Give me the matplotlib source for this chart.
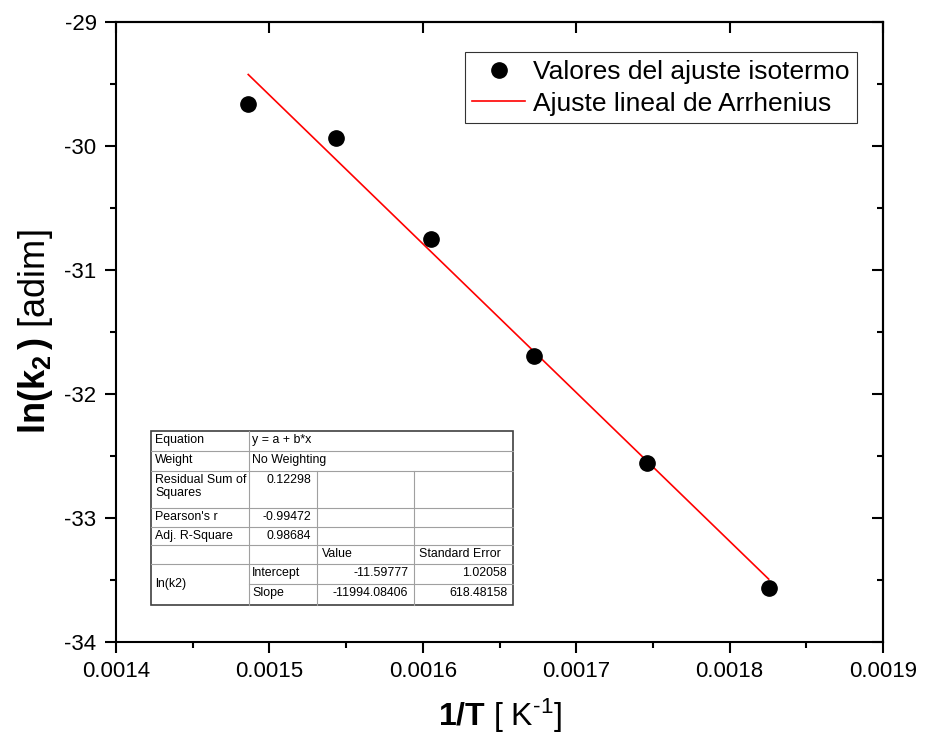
import matplotlib
matplotlib.use('Agg')
import matplotlib.pyplot as plt
from matplotlib.ticker import MultipleLocator
from matplotlib.patches import Rectangle

plt.rcParams['font.family'] = 'Liberation Sans'
plt.rcParams['mathtext.fontset'] = 'custom'
plt.rcParams['mathtext.rm'] = 'Liberation Sans'
plt.rcParams['mathtext.bf'] = 'Liberation Sans:bold'
plt.rcParams['mathtext.it'] = 'Liberation Sans:italic'

# 1/T [1/K] y ln(k2) de cada ajuste isotermo
inv_T = [0.0014862, 0.0015434, 0.0016053, 0.0016727, 0.0017460, 0.0018255]
ln_k2 = [-29.664, -29.938, -30.750, -31.691, -32.559, -33.567]

# parametros del ajuste lineal de Arrhenius
intercept = -11.59777
slope = -11994.08406

# tabla de resultados del ajuste
fit_labels = ["Equation", "Weight", "Residual Sum of\nSquares", "Pearson's r", "Adj. R-Square"]
fit_values = ["y = a + b*x", "No Weighting", "0.12298", "-0.99472", "0.98684"]
param_header = ["Value", "Standard Error"]
param_names = ["Intercept", "Slope"]
param_values = ["-11.59777", "-11994.08406"]
param_errors = ["1.02058", "618.48158"]

fig = plt.figure(figsize=(9.26, 7.44), dpi=100)
ax = fig.add_axes([116/926, (744-642)/744, 767/926, 620/744])

ax.plot(inv_T, ln_k2, 'o', color='black', ms=11, label='Valores del ajuste isotermo', zorder=3)
x_fit = [min(inv_T), max(inv_T)]
y_fit = [intercept + slope*x for x in x_fit]
ax.plot(x_fit, y_fit, color='red', lw=1.2, label='Ajuste lineal de Arrhenius', zorder=2)

ax.set_xlim(0.0014, 0.0019)
ax.set_ylim(-34, -29)
ax.xaxis.set_major_locator(MultipleLocator(0.0001))
ax.xaxis.set_minor_locator(MultipleLocator(0.00005))
ax.yaxis.set_major_locator(MultipleLocator(1))
ax.yaxis.set_minor_locator(MultipleLocator(0.5))
ax.xaxis.set_major_formatter(plt.FuncFormatter(lambda v, p: '%.4f' % v))
ax.yaxis.set_major_formatter(plt.FuncFormatter(lambda v, p: '%d' % round(v)))
for s in ax.spines.values():
    s.set_linewidth(1.5)
ax.tick_params(which='major', direction='out', length=8, width=1.5, labelsize=16, pad=6)
ax.tick_params(which='minor', direction='out', length=4.5, width=1.5)

# ejes superior y derecho con marcas hacia dentro
top = ax.secondary_xaxis('top')
top.xaxis.set_major_locator(MultipleLocator(0.0001))
top.tick_params(direction='in', length=8, width=1.5, labeltop=False)
right = ax.secondary_yaxis('right')
right.yaxis.set_major_locator(MultipleLocator(1))
right.yaxis.set_minor_locator(MultipleLocator(0.5))
right.tick_params(which='major', direction='in', length=8, width=1.5, labelright=False)
right.tick_params(which='minor', direction='in', length=4.5, width=1.5)
for sa in (top, right):
    for s in sa.spines.values():
        s.set_linewidth(1.5)

ax.set_xlabel(r'$\mathbf{1/T}$ [ K$^{\text{-1}}$]', fontsize=23, labelpad=10)
ax.set_ylabel(r'$\mathbf{ln(k_2\,)}$ [adim]', fontsize=26, labelpad=7)

leg = ax.legend(loc='upper right', bbox_to_anchor=(0.966, 0.951), fontsize=19,
                fancybox=False, frameon=True, numpoints=1, handlelength=2.0,
                handletextpad=0.3, borderpad=0.28, labelspacing=0.3, borderaxespad=0)
leg.get_frame().set_edgecolor('black')
leg.get_frame().set_linewidth(0.8)

# tabla en coordenadas de pixel de la figura
tab = fig.add_axes([0, 0, 1, 1], zorder=5)
tab.set_xlim(0, 926)
tab.set_ylim(744, 0)
tab.axis('off')

x0, x1, x2, x3, x4 = 151, 249, 317, 414, 513
rows = [431, 451, 471, 508, 527, 545, 564, 584, 605]
grid = '#a0a0a0'
tab.add_patch(Rectangle((x0, rows[0]), x4 - x0, rows[-1] - rows[0], facecolor='white',
                        edgecolor='#404040', lw=1.2))
for y in rows[1:-1]:
    xa = x1 if y == rows[7] else x0
    tab.plot([xa, x4], [y, y], color=grid, lw=0.8)
tab.plot([x1, x1], [rows[0], rows[-1]], color=grid, lw=0.8)
tab.plot([x2, x2], [rows[2], rows[-1]], color=grid, lw=0.8)
tab.plot([x3, x3], [rows[2], rows[-1]], color=grid, lw=0.8)

fs = 8.9
for i, (lab, val) in enumerate(zip(fit_labels, fit_values)):
    top_y = rows[i] + 3
    tab.text(x0 + 4, top_y, lab, fontsize=fs, va='top', ha='left', linespacing=1.15)
    if i < 2:
        tab.text(x1 + 3, top_y, val, fontsize=fs, va='top', ha='left')
    else:
        tab.text(x2 - 6, top_y, val, fontsize=fs, va='top', ha='right')
tab.text(x2 + 5, rows[5] + 3, param_header[0], fontsize=fs, va='top', ha='left')
tab.text(x3 + 5, rows[5] + 3, param_header[1], fontsize=fs, va='top', ha='left')
tab.text(x0 + 4, (rows[6] + rows[8]) / 2, 'ln(k2)', fontsize=fs, va='center', ha='left')
for j in range(2):
    top_y = rows[6 + j] + 3
    tab.text(x1 + 3, top_y, param_names[j], fontsize=fs, va='top', ha='left')
    tab.text(x3 - 6, top_y, param_values[j], fontsize=fs, va='top', ha='right')
    tab.text(x4 - 6, top_y, param_errors[j], fontsize=fs, va='top', ha='right')

fig.savefig('out.png', dpi=100)
